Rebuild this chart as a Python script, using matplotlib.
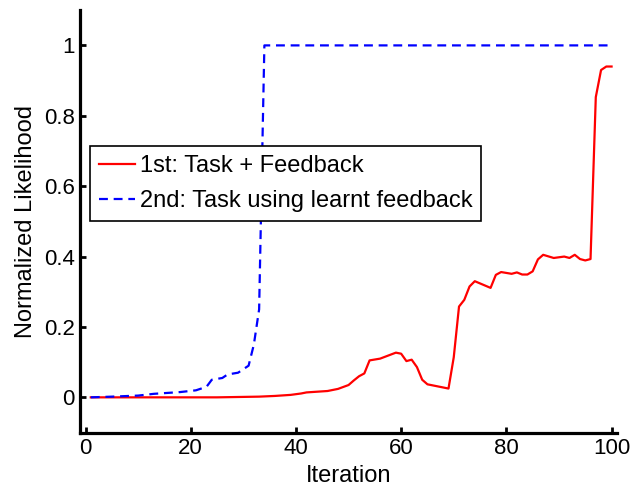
import numpy as np
import matplotlib
matplotlib.use('Agg')
import matplotlib.pyplot as plt
from matplotlib.ticker import FuncFormatter

plt.rcParams['font.family'] = ['Liberation Sans', 'DejaVu Sans']

# 1st run: task + feedback (vertices)
iter_first = [1, 25, 33, 36, 39, 41, 42, 46, 48, 50, 51, 52, 53, 54, 56, 59, 60, 61, 62, 63,
              64, 65, 69, 70, 71, 72, 73, 74, 77, 78, 79, 81, 82, 83, 84, 85, 86, 87, 89, 91,
              92, 93, 94, 95, 96, 97, 98, 99, 100]
lik_first = [0.0, 0.0, 0.002, 0.004, 0.007, 0.011, 0.014, 0.018, 0.024, 0.035, 0.048, 0.06,
             0.068, 0.105, 0.11, 0.127, 0.124, 0.103, 0.107, 0.086, 0.05, 0.037, 0.025, 0.114,
             0.258, 0.277, 0.315, 0.33, 0.311, 0.348, 0.356, 0.351, 0.355, 0.349, 0.349, 0.358,
             0.392, 0.405, 0.396, 0.40, 0.396, 0.405, 0.393, 0.389, 0.393, 0.853, 0.93, 0.94, 0.94]

# 2nd run: task using learnt feedback
iter_second = [1, 5, 10, 13, 18, 21, 23, 24, 26, 27, 29, 31, 32, 33, 34, 100]
lik_second = [0.0, 0.002, 0.005, 0.01, 0.015, 0.02, 0.03, 0.05, 0.055, 0.065, 0.07, 0.09,
              0.15, 0.25, 1.0, 1.0]

LABELS = ['1st: Task + Feedback', '2nd: Task using learnt feedback']

fig = plt.figure(figsize=(6.32, 4.86), dpi=100)
ax = fig.add_axes([0.127, 0.11, 0.849, 0.869])

ax.plot(iter_first, lik_first, '-', color='red', lw=1.6, label=LABELS[0])
ax.plot(iter_second, lik_second, color='blue', lw=1.6, linestyle=(0, (4, 2.6)), label=LABELS[1])

ax.set_xlim(-1, 101)
ax.set_ylim(-0.1, 1.1)
ax.set_xticks(np.arange(0, 101, 20))
ax.set_yticks([0, 0.2, 0.4, 0.6, 0.8, 1.0])
ax.yaxis.set_major_formatter(FuncFormatter(lambda v, p: f'{v:g}'))

for s in ['top', 'right']:
    ax.spines[s].set_visible(False)
for s in ['left', 'bottom']:
    ax.spines[s].set_linewidth(2.3)
ax.tick_params(direction='in', length=4, width=2, labelsize=16, pad=4)

ax.set_xlabel('Iteration', fontsize=17, labelpad=4)
ax.set_ylabel('Normalized Likelihood', fontsize=17, labelpad=5)

leg = ax.legend(loc='upper left', bbox_to_anchor=(0.019, 0.678), fontsize=17,
                fancybox=False, framealpha=1, edgecolor='black', borderaxespad=0,
                handlelength=1.5, handletextpad=0.2, borderpad=0.38, labelspacing=0.55)
leg.get_frame().set_linewidth(1.2)

plt.savefig('out.png', dpi=100)
